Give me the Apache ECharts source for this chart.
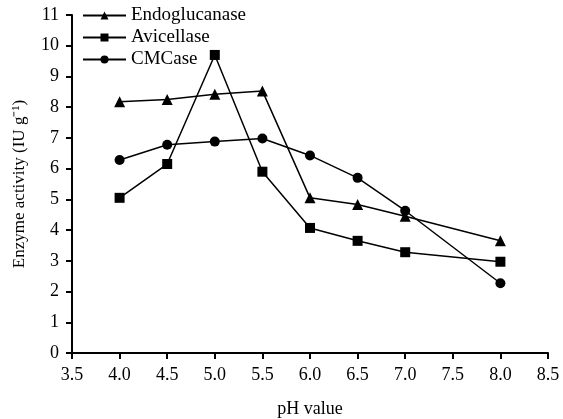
<!DOCTYPE html>
<html>
<head>
<meta charset="utf-8">
<script src="https://cdn.jsdelivr.net/npm/echarts@6/dist/echarts.min.js"></script>
<style>
  html, body { margin: 0; padding: 0; background: #fff; }
  #chart { width: 563px; height: 419px; }
</style>
</head>
<body>
<div id="chart"></div>
<script>
// pH values and measured activities (IU g^-1)
const phValues = [4.0, 4.5, 5.0, 5.5, 6.0, 6.5, 7.0, 8.0];
const endoglucanase = [8.18, 8.25, 8.42, 8.53, 5.05, 4.83, 4.45, 3.65];
const avicellase = [5.05, 6.15, 9.7, 5.9, 4.07, 3.65, 3.28, 2.97];
const cmcase = [6.28, 6.78, 6.88, 6.98, 6.43, 5.7, 4.63, 2.27];

const font = 'Liberation Serif, Times New Roman, serif';

function pairs(ys) {
  return phValues.map((x, i) => [x, ys[i]]);
}

function lineSeries(name, ys, symbol, size) {
  return {
    name: name,
    type: 'line',
    data: pairs(ys),
    symbol: symbol,
    symbolSize: size,
    showAllSymbol: true,
    lineStyle: { color: '#000', width: 1.5 },
    itemStyle: { color: '#000' },
    emphasis: { disabled: true }
  };
}

const chart = echarts.init(document.getElementById('chart'));
chart.setOption({
  animation: false,
  backgroundColor: '#fff',
  textStyle: { fontFamily: font, color: '#000' },
  grid: { left: 72, right: 15, top: 15, bottom: 66, outerBoundsMode: 'none', containLabel: false },
  legend: {
    orient: 'vertical',
    left: 77,
    top: 1,
    itemWidth: 43,
    itemHeight: 10,
    itemGap: 3,
    textStyle: { fontFamily: font, fontSize: 19, color: '#000' },
    data: ['Endoglucanase', 'Avicellase', 'CMCase']
  },
  xAxis: {
    type: 'value',
    min: 3.5,
    max: 8.5,
    interval: 0.5,
    name: 'pH value',
    nameLocation: 'middle',
    nameGap: 47,
    nameTextStyle: { fontFamily: font, fontSize: 18, color: '#000' },
    axisLine: { onZero: false, lineStyle: { color: '#000', width: 2 } },
    axisTick: { show: true, length: 6, lineStyle: { color: '#000', width: 2 } },
    axisLabel: {
      fontFamily: font, fontSize: 18, color: '#000', margin: 13,
      formatter: v => v.toFixed(1)
    },
    splitLine: { show: false }
  },
  yAxis: {
    type: 'value',
    min: 0,
    max: 11,
    interval: 1,
    name: 'Enzyme activity (IU g\u207B\u00B9)',
    nameLocation: 'middle',
    nameGap: 44,
    nameTextStyle: { fontFamily: font, fontSize: 17, color: '#000' },
    axisLine: { show: true, lineStyle: { color: '#000', width: 2 } },
    axisTick: { show: true, length: 6, lineStyle: { color: '#000', width: 2 } },
    axisLabel: { fontFamily: font, fontSize: 18, color: '#000', margin: 13 },
    splitLine: { show: false }
  },
  series: [
    lineSeries('Endoglucanase', endoglucanase, 'triangle', 11),
    lineSeries('Avicellase', avicellase, 'rect', 10),
    lineSeries('CMCase', cmcase, 'circle', 10)
  ]
});
</script>
</body>
</html>
